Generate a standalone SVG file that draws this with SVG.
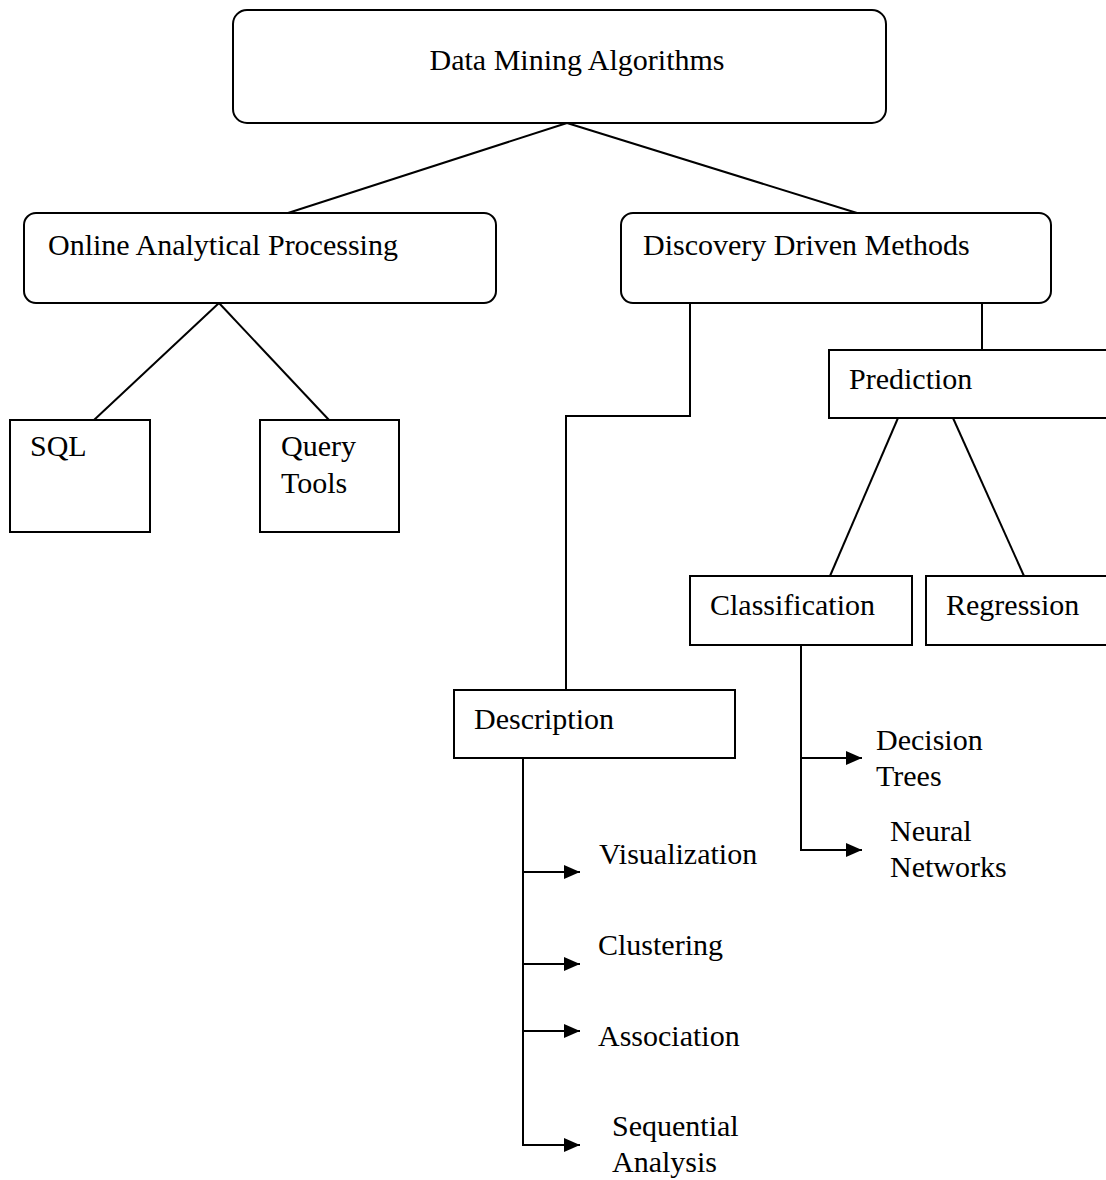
<svg xmlns="http://www.w3.org/2000/svg" width="1106" height="1180" viewBox="0 0 1106 1180">
  <style>
    .box { fill: #ffffff; stroke: #000000; stroke-width: 2; }
    .wire { fill: none; stroke: #000000; stroke-width: 2; }
    text { font-family: "Liberation Serif", "Times New Roman", serif; font-size: 30px; fill: #000000; }
  </style>
  <defs>
    <marker id="arrow" markerWidth="16" markerHeight="14" refX="16" refY="7" orient="auto" markerUnits="userSpaceOnUse">
      <path d="M0,0 L16,7 L0,14 Z" fill="#000000"/>
    </marker>
  </defs>
  <rect width="1106" height="1180" fill="#ffffff"/>

  <!-- connectors -->
  <g id="connectors">
    <line class="wire" x1="567" y1="123" x2="288" y2="213"/>
    <line class="wire" x1="567" y1="123" x2="857" y2="213"/>
    <line class="wire" x1="219" y1="303" x2="94" y2="420"/>
    <line class="wire" x1="219" y1="303" x2="329" y2="420"/>
    <polyline class="wire" points="690,303 690,416 566,416 566,690"/>
    <line class="wire" x1="982" y1="303" x2="982" y2="350"/>
    <line class="wire" x1="898" y1="418" x2="830" y2="576"/>
    <line class="wire" x1="953" y1="418" x2="1024" y2="576"/>
    <line class="wire" x1="801" y1="645" x2="801" y2="851"/>
    <line class="wire" x1="800" y1="758" x2="862" y2="758" marker-end="url(#arrow)"/>
    <line class="wire" x1="800" y1="850" x2="862" y2="850" marker-end="url(#arrow)"/>
    <line class="wire" x1="523" y1="758" x2="523" y2="1146"/>
    <line class="wire" x1="522" y1="872" x2="580" y2="872" marker-end="url(#arrow)"/>
    <line class="wire" x1="522" y1="964" x2="580" y2="964" marker-end="url(#arrow)"/>
    <line class="wire" x1="522" y1="1031" x2="580" y2="1031" marker-end="url(#arrow)"/>
    <line class="wire" x1="522" y1="1145" x2="580" y2="1145" marker-end="url(#arrow)"/>
  </g>

  <g id="data-mining-algorithms">
    <rect class="box" x="233" y="10" width="653" height="113" rx="14"/>
    <text x="577" y="70" text-anchor="middle">Data Mining Algorithms</text>
  </g>

  <g id="olap">
    <rect class="box" x="24" y="213" width="472" height="90" rx="12"/>
    <text x="48" y="255">Online Analytical Processing</text>
  </g>

  <g id="discovery-driven">
    <rect class="box" x="621" y="213" width="430" height="90" rx="12"/>
    <text x="643" y="255">Discovery Driven Methods</text>
  </g>

  <g id="sql">
    <rect class="box" x="10" y="420" width="140" height="112"/>
    <text x="30" y="456">SQL</text>
  </g>

  <g id="query-tools">
    <rect class="box" x="260" y="420" width="139" height="112"/>
    <text x="281" y="456">Query</text>
    <text x="281" y="493">Tools</text>
  </g>

  <g id="prediction">
    <rect class="box" x="829" y="350" width="290" height="68"/>
    <text x="849" y="389">Prediction</text>
  </g>

  <g id="classification">
    <rect class="box" x="690" y="576" width="222" height="69"/>
    <text x="710" y="615">Classification</text>
  </g>

  <g id="regression">
    <rect class="box" x="926" y="576" width="200" height="69"/>
    <text x="946" y="615">Regression</text>
  </g>

  <g id="description">
    <rect class="box" x="454" y="690" width="281" height="68"/>
    <text x="474" y="729">Description</text>
  </g>

  <g id="decision-trees">
    <text x="876" y="750">Decision</text>
    <text x="876" y="786">Trees</text>
  </g>

  <g id="neural-networks">
    <text x="890" y="841">Neural</text>
    <text x="890" y="877">Networks</text>
  </g>

  <g id="visualization">
    <text x="599" y="864">Visualization</text>
  </g>

  <g id="clustering">
    <text x="598" y="955">Clustering</text>
  </g>

  <g id="association">
    <text x="598" y="1046">Association</text>
  </g>

  <g id="sequential-analysis">
    <text x="612" y="1136">Sequential</text>
    <text x="612" y="1172">Analysis</text>
  </g>
</svg>
